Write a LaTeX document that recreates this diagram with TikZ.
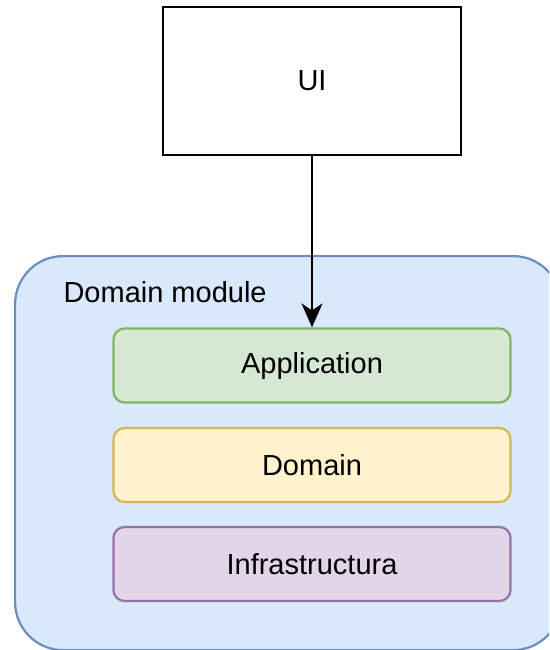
\documentclass[tikz,border=0pt]{standalone}
\usepackage{fontspec}
\setmainfont{Liberation Sans}
\usetikzlibrary{arrows.meta}
\definecolor{modfill}{HTML}{DAE8FC}
\definecolor{moddraw}{HTML}{6C8EBF}
\definecolor{appfill}{HTML}{D5E8D4}
\definecolor{appdraw}{HTML}{82B366}
\definecolor{domfill}{HTML}{FFF2CC}
\definecolor{domdraw}{HTML}{D6B656}
\definecolor{infafill}{HTML}{E1D5E7}
\definecolor{infadraw}{HTML}{9673A6}
\tikzset{
  x=1pt, y=-1pt,
  bigtext/.style={font=\fontsize{29}{34}\selectfont},
  layer/.style={draw, line width=2.2pt, rounded corners=11pt, minimum width=397pt,
    minimum height=74pt, bigtext, inner sep=0pt},
}
\begin{document}
\begin{tikzpicture}
\useasboundingbox (0,0) rectangle (549,650);
\clip (0,0) rectangle (549,650);
% module container
\node[draw=moddraw, fill=modfill, line width=2.2pt, rounded corners=48pt,
  minimum width=546pt, minimum height=394pt, inner sep=0pt, anchor=north west]
  (module) at (14,255) {};
\node[anchor=west, bigtext] (modlabel) at (60,292) {Domain module};
% UI box
\node[draw, line width=2.2pt, fill=white, minimum width=298pt, minimum height=148pt,
  inner sep=0pt, bigtext] (ui) at (312,81) {UI};
% layers
\node[layer, draw=appdraw, fill=appfill] (app) at (312,365.5) {Application};
\node[layer, draw=domdraw, fill=domfill] (dom) at (312,465) {Domain};
\node[layer, draw=infadraw, fill=infafill] (infra) at (312,564) {Infrastructura};
% dependency arrow
\draw[line width=2.2pt, -{Stealth[length=24pt,width=21pt,inset=7pt]}] (ui.south) -- (app.north);
\end{tikzpicture}
\end{document}
